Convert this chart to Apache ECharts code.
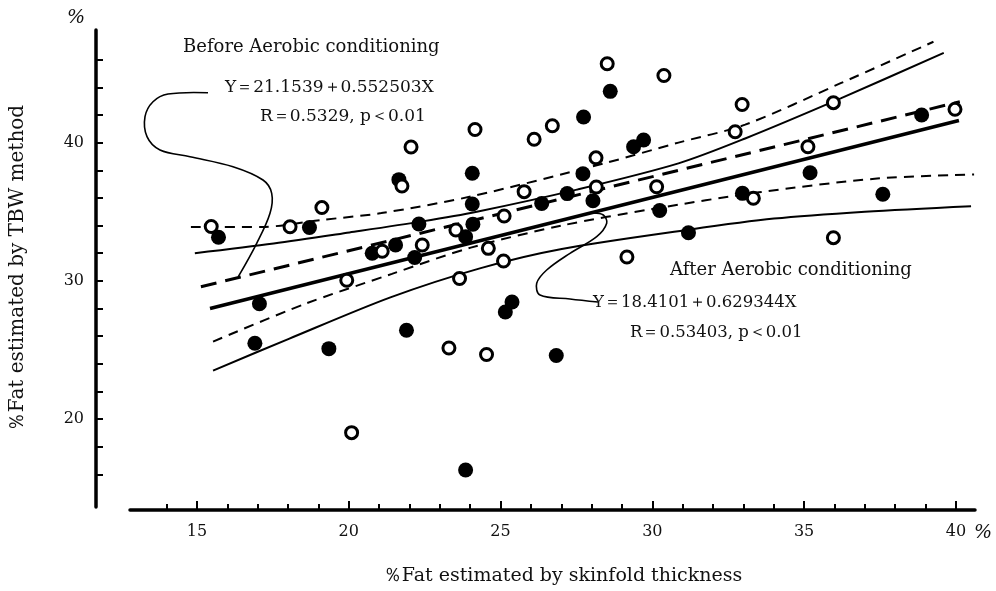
<!DOCTYPE html>
<html><head><meta charset="utf-8">
<script src="https://cdn.jsdelivr.net/npm/echarts/dist/echarts.min.js"></script>
<style>html,body{margin:0;padding:0;background:#fff}#c{width:996px;height:591px}</style>
</head><body><div id="c"></div>
<script>
// ---- data ----
const openPts = [
 [15.44,33.93],[18.04,33.91],[19.09,35.30],[19.91,30.04],[20.07,19.01],[21.08,32.14],
 [22.03,39.68],[21.73,36.86],[22.40,32.59],[23.51,33.68],[23.63,30.17],[23.28,25.14],
 [24.14,40.95],[24.58,32.35],[24.52,24.67],[25.10,34.69],[25.08,31.43],[25.76,36.45],
 [26.09,40.24],[26.69,41.22],[28.13,38.90],[28.14,36.79],[28.50,45.71],[30.37,44.86],
 [30.13,36.81],[29.15,31.72],[32.95,42.76],[32.72,40.79],[33.32,35.97],[35.96,42.89],
 [35.12,39.70],[35.96,33.12],[39.97,42.41]
];
const filledPts = [
 [15.68,33.15],[18.68,33.86],[20.75,31.99],[17.03,28.34],[16.88,25.48],[19.32,25.09],
 [21.63,37.32],[22.29,34.11],[21.52,32.59],[22.15,31.69],[21.88,26.42],[24.05,37.78],
 [24.05,35.56],[24.07,34.10],[23.83,33.19],[23.83,16.31],[25.14,27.74],[25.36,28.47],
 [26.82,24.59],[26.34,35.59],[27.18,36.31],[27.70,37.75],[28.03,35.79],[27.72,41.85],
 [28.60,43.71],[29.37,39.70],[29.70,40.19],[30.23,35.09],[31.18,33.48],[32.96,36.33],
 [35.19,37.82],[37.59,36.26],[38.87,42.00]
];
const afterFit = [[15.4,28.0],[40.1,41.6]];
const beforeFit = [[15.1,29.57],[40.13,42.96]];
const afterUpper = [[14.9,32.0],[17.5,32.7],[20,33.5],[22.4,34.3],[24.2,35.0],[27.5,36.6],[30.85,38.5],[33.05,40.3],[36.2,43.2],[39.6,46.5]];
const afterLower = [[15.5,23.5],[18,25.8],[21.35,28.8],[24.3,30.9],[27,32.3],[31.2,33.7],[34,34.5],[37,35.0],[40.5,35.4]];
const beforeUpper = [[14.77,33.9],[17.1,33.9],[19.07,34.4],[21.05,34.9],[24.0,36.1],[28.4,38.5],[30.85,40.0],[33.05,41.3],[36.2,44.3],[39.26,47.3]];
const beforeLower = [[15.5,25.6],[18.5,28.3],[21.4,30.5],[24,32.4],[27,34.0],[30,35.2],[33.5,36.4],[37.4,37.4],[40.6,37.7]];
const xTicks = [14,15,16,17,18,19,20,21,22,23,24,25,26,27,28,29,30,31,32,33,34,35,36,37,38,39,40];
const xLabels = [15,20,25,30,35,40];
const yTicks = [16,18,20,22,24,26,28,30,32,34,36,38,40,42,44,46];
const yLabels = [20,30,40];
const xName = '％Fat estimated by skinfold thickness';
const yName = '％Fat estimated by TBW method';
const beforeTitle = 'Before Aerobic conditioning';
const beforeEq = 'Y＝21.1539＋0.552503X';
const beforeR = 'R＝0.5329, p＜0.01';
const afterTitle = 'After Aerobic conditioning';
const afterEq = 'Y＝18.4101＋0.629344X';
const afterR = 'R＝0.53403, p＜0.01';

const FONT = '"DejaVu Serif","Liberation Serif",serif';
const chart = echarts.init(document.getElementById('c'), null, {renderer:'canvas'});
function lineSeries(data, width, type, smooth){
  return {type:'line', xAxisIndex:0, yAxisIndex:0, data:data, showSymbol:false, symbol:'none',
    smooth:smooth, lineStyle:{color:'#000', width:width, type:type}, z:2, silent:true};
}
function txt(x,y,t,size,italic){
  return {type:'text', x:x, y:y, z:20, style:{text:t, font:(italic?'italic ':'normal ')+size+'px '+FONT, fill:'#111', textVerticalAlign:'middle'}};
}
chart.setOption({
  animation:false,
  backgroundColor:'#fff',
  grid:[{left:95,right:21,top:30,bottom:84},{left:130,right:21,top:30,bottom:79}],
  xAxis:[
    {type:'value', gridIndex:0, min:11.64, max:40.63, show:false, splitLine:{show:false}},
    {type:'value', gridIndex:1, min:12.793, max:40.63, position:'bottom',
      axisLine:{show:true, lineStyle:{color:'#000', width:3.5}},
      axisTick:{show:true, inside:true, length:6, customValues:xTicks, lineStyle:{color:'#000', width:2}},
      axisLabel:{show:true, customValues:xLabels, margin:14, color:'#111', fontSize:16, fontFamily:FONT},
      splitLine:{show:false},
      name:xName, nameLocation:'middle', nameGap:57, nameTextStyle:{color:'#111', fontSize:19, fontFamily:FONT, padding:[0,0,0,20]}},
    {type:'value', gridIndex:1, min:12.793, max:40.63, position:'bottom', offset:0,
      axisLine:{show:false}, axisLabel:{show:false}, splitLine:{show:false},
      axisTick:{show:true, inside:true, length:9, customValues:xLabels, lineStyle:{color:'#000', width:2}}}
  ],
  yAxis:[
    {type:'value', gridIndex:0, min:13.63, max:48.15, position:'left',
      axisLine:{show:true, lineStyle:{color:'#000', width:3.5}},
      axisTick:{show:true, inside:true, length:7, customValues:yTicks, lineStyle:{color:'#000', width:2}},
      axisLabel:{show:true, customValues:yLabels, margin:12, color:'#111', fontSize:16, fontFamily:FONT},
      splitLine:{show:false},
      name:yName, nameLocation:'middle', nameGap:68, nameRotate:90, nameTextStyle:{color:'#111', fontSize:20, fontFamily:FONT}},
    {type:'value', gridIndex:1, min:13.27, max:48.15, show:false, splitLine:{show:false}}
  ],
  series:[
    lineSeries(beforeUpper, 2, [10,7], 0.3),
    lineSeries(beforeLower, 2, [10,7], 0.3),
    lineSeries(afterUpper, 2, 'solid', 0.3),
    lineSeries(afterLower, 2, 'solid', 0.3),
    lineSeries(beforeFit, 3, [16,9], false),
    lineSeries(afterFit, 3.5, 'solid', false),
    {type:'scatter', xAxisIndex:0, yAxisIndex:0, data:filledPts, symbol:'circle', symbolSize:15,
      itemStyle:{color:'#000', opacity:1}, z:4, silent:true},
    {type:'scatter', xAxisIndex:0, yAxisIndex:0, data:openPts, symbol:'circle', symbolSize:12,
      itemStyle:{color:'#fff', borderColor:'#000', borderWidth:3, opacity:1}, z:5, silent:true}
  ],
  graphic:[
    txt(67,18,'%',19,true),
    txt(974,533,'%',19,true),
    txt(183,47,beforeTitle,18),
    txt(225,88,beforeEq,17),
    txt(260,117,beforeR,17),
    txt(670,270,afterTitle,18),
    txt(593,303,afterEq,16.5),
    txt(630,333,afterR,16.5),
    {type:'polyline', shape:{smooth:0.35, points:[[208,92.7],[168,94],[153,101.7],[145,116.7],[147,136.7],[160,150],[190,156.7],[233,166.7],[263,180],[271.7,193.3],[270,213.3],[256.7,243.3],[238.3,276.7]]},
      style:{stroke:'#000', fill:null, lineWidth:1.6}, z:10},
    {type:'polyline', shape:{smooth:0.35, points:[[598,302],[570,299],[540,295],[536.7,283.3],[546.7,270],[570,253.3],[596.7,236.7],[606.7,223.3],[603.3,215],[593,213]]},
      style:{stroke:'#000', fill:null, lineWidth:1.6}, z:10}
  ]
});
</script></body></html>
